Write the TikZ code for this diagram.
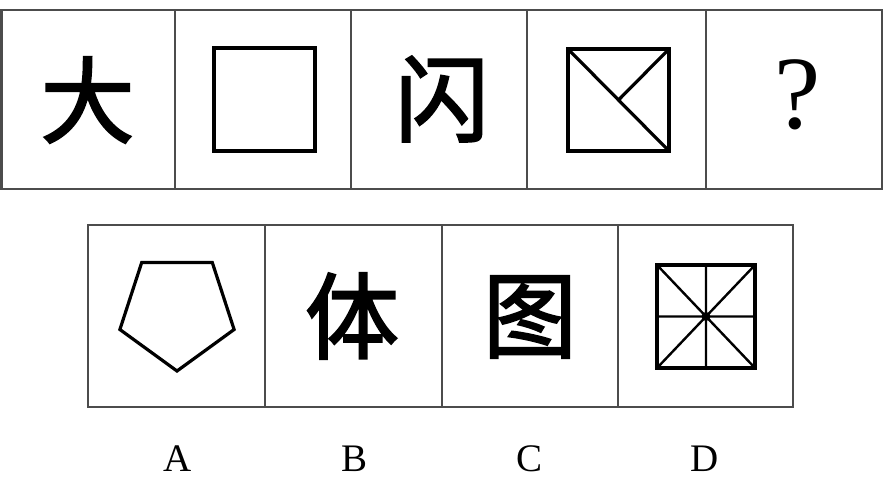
\documentclass[tikz,border=0pt]{standalone}
\usepackage{fontspec}
\setmainfont{Liberation Serif}
\newfontfamily\cjk[FakeBold=2.2]{Noto Sans CJK SC}
\tikzset{
  cellline/.style={draw=black!70, line width=2.6pt},
  shapeline/.style={draw=black, line width=3.2pt, line join=miter},
  hanzi/.style={inner sep=0pt, font=\cjk\fontsize{94}{94}\selectfont},
  qmark/.style={inner sep=0pt, font=\fontsize{104}{104}\selectfont},
  optlabel/.style={inner sep=0pt, font=\fontsize{39}{39}\selectfont}
}
\begin{document}
\begin{tikzpicture}[x=1pt,y=-1pt]
\useasboundingbox (0,0) rectangle (885,483);
% top row grid
\draw[cellline] (1.3,10) rectangle (882,189);
\foreach \xx in {175,351,527,706} \draw[cellline] (\xx,10) -- (\xx,189);
% bottom row grid
\draw[cellline] (88,225) rectangle (793,407);
\foreach \xx in {265,442,618} \draw[cellline] (\xx,225) -- (\xx,407);
% top row contents
\node[hanzi] (t1) at (87.5,100) {大};
\draw[shapeline] (214,48) rectangle (315,151);
\coordinate (t2) at (264.5,99.5);
\node[hanzi] (t3) at (442,99) {闪};
\coordinate (s4a) at (568,49);
\coordinate (s4b) at (669,151);
\coordinate (s4c) at (669,49);
\coordinate (t4) at (618.5,100);
\draw[shapeline] (s4a) rectangle (s4b);
\draw[shapeline] (s4a) -- (s4b);
\draw[shapeline] (s4c) -- (t4);
\node[qmark] (t5) at (798,95) {?};
% bottom row contents
\draw[shapeline] (177,371) -- (234.1,329.5) -- (212.3,262.5) -- (141.7,262.5) -- (119.9,329.5) -- cycle;
\coordinate (oA) at (177,311);
\node[hanzi] (oB) at (352,316) {体};
\node[hanzi] (oC) at (530,317) {图};
\coordinate (dtl) at (657,265);
\coordinate (dbr) at (755,368);
\coordinate (dtr) at (755,265);
\coordinate (dbl) at (657,368);
\coordinate (oD) at (706,316.5);
\draw[shapeline] (dtl) rectangle (dbr);
\draw[shapeline, line width=2.4pt] (dtl) -- (dbr) (dtr) -- (dbl) (706,265) -- (706,368) (657,316.5) -- (755,316.5);
\fill (oD) circle (4.5);
% labels
\node[optlabel] (lA) at (178,459) {A};
\node[optlabel] (lB) at (355,459) {B};
\node[optlabel] (lC) at (529,459) {C};
\node[optlabel] (lD) at (705,459) {D};
\end{tikzpicture}
\end{document}
